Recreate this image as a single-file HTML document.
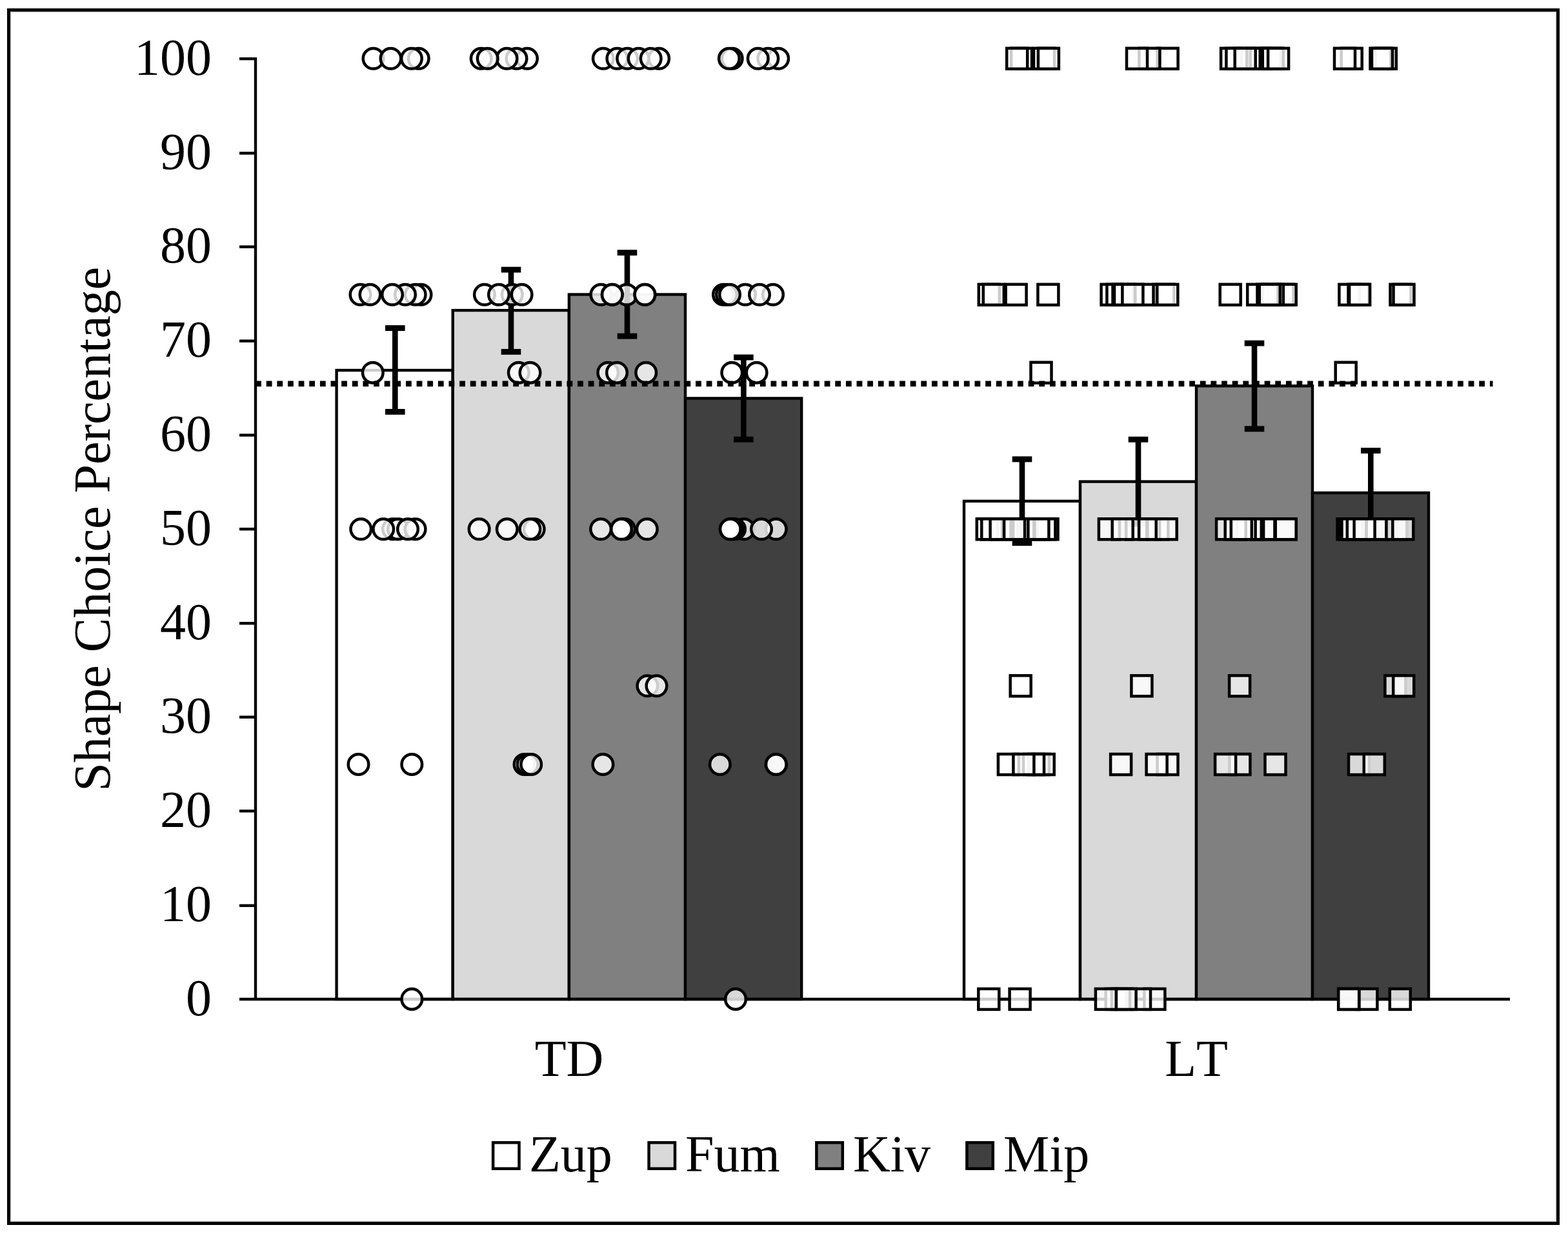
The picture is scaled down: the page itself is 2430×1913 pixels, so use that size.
<!DOCTYPE html>
<html lang="en"><head><meta charset="utf-8"><title>Shape Choice Percentage</title>
<style>html,body{margin:0;padding:0;background:#fff;}body{width:2430px;height:1913px;}svg{display:block;}text{font-family:"Liberation Serif","Times New Roman",serif;fill:#000;font-kerning:none;font-variant-ligatures:none;}</style></head><body>
<svg width="2430" height="1913" viewBox="0 0 2430 1913" role="img" aria-label="Bar chart of shape choice percentage for TD and LT groups">
<rect x="0" y="0" width="2430" height="1913" fill="#ffffff"/>
<rect x="16.8" y="18.8" width="2394.4" height="1874.4" fill="#ffffff" stroke="#d4d4d4" stroke-width="1.6"/>
<rect x="13.5" y="15.5" width="2401" height="1881" fill="none" stroke="#000" stroke-width="5"/>
<g stroke="#000" stroke-width="4.4" stroke-linejoin="miter">
<rect x="521.60" y="574.00" width="180.15" height="975.00" fill="#ffffff"/>
<rect x="701.75" y="481.10" width="180.15" height="1067.90" fill="#d9d9d9"/>
<rect x="881.90" y="456.50" width="180.15" height="1092.50" fill="#808080"/>
<rect x="1062.05" y="617.50" width="180.15" height="931.50" fill="#404040"/>
<rect x="1494.00" y="776.90" width="180.00" height="772.10" fill="#ffffff"/>
<rect x="1674.00" y="746.60" width="180.00" height="802.40" fill="#d9d9d9"/>
<rect x="1854.00" y="598.30" width="180.00" height="950.70" fill="#808080"/>
<rect x="2034.00" y="764.00" width="180.00" height="785.00" fill="#404040"/>
</g>
<g stroke="#000" fill="none">
<line x1="612.30" y1="508.60" x2="612.30" y2="638.40" stroke-width="8.6"/>
<line x1="597.00" y1="508.60" x2="627.60" y2="508.60" stroke-width="8.9"/>
<line x1="597.00" y1="638.40" x2="627.60" y2="638.40" stroke-width="8.9"/>
<line x1="792.00" y1="418.10" x2="792.00" y2="545.40" stroke-width="8.6"/>
<line x1="776.70" y1="418.10" x2="807.30" y2="418.10" stroke-width="8.9"/>
<line x1="776.70" y1="545.40" x2="807.30" y2="545.40" stroke-width="8.9"/>
<line x1="972.00" y1="391.70" x2="972.00" y2="521.10" stroke-width="8.6"/>
<line x1="956.70" y1="391.70" x2="987.30" y2="391.70" stroke-width="8.9"/>
<line x1="956.70" y1="521.10" x2="987.30" y2="521.10" stroke-width="8.9"/>
<line x1="1152.40" y1="554.00" x2="1152.40" y2="681.30" stroke-width="8.6"/>
<line x1="1137.10" y1="554.00" x2="1167.70" y2="554.00" stroke-width="8.9"/>
<line x1="1137.10" y1="681.30" x2="1167.70" y2="681.30" stroke-width="8.9"/>
<line x1="1584.00" y1="711.90" x2="1584.00" y2="841.70" stroke-width="8.6"/>
<line x1="1568.70" y1="711.90" x2="1599.30" y2="711.90" stroke-width="8.9"/>
<line x1="1568.70" y1="841.70" x2="1599.30" y2="841.70" stroke-width="8.9"/>
<line x1="1764.00" y1="681.30" x2="1764.00" y2="811.90" stroke-width="8.6"/>
<line x1="1748.70" y1="681.30" x2="1779.30" y2="681.30" stroke-width="8.9"/>
<line x1="1748.70" y1="811.90" x2="1779.30" y2="811.90" stroke-width="8.9"/>
<line x1="1944.00" y1="532.10" x2="1944.00" y2="664.90" stroke-width="8.6"/>
<line x1="1928.70" y1="532.10" x2="1959.30" y2="532.10" stroke-width="8.9"/>
<line x1="1928.70" y1="664.90" x2="1959.30" y2="664.90" stroke-width="8.9"/>
<line x1="2124.30" y1="698.60" x2="2124.30" y2="829.40" stroke-width="8.6"/>
<line x1="2109.00" y1="698.60" x2="2139.60" y2="698.60" stroke-width="8.9"/>
<line x1="2109.00" y1="829.40" x2="2139.60" y2="829.40" stroke-width="8.9"/>
</g>
<g stroke="#000" stroke-width="4.4" fill="none">
<line x1="396.00" y1="89.00" x2="396.00" y2="1551.10"/>
<line x1="371" y1="1549.00" x2="2340" y2="1549.00"/>
<line x1="371" y1="1403.90" x2="396.00" y2="1403.90"/>
<line x1="371" y1="1257.30" x2="396.00" y2="1257.30"/>
<line x1="371" y1="1111.70" x2="396.00" y2="1111.70"/>
<line x1="371" y1="966.30" x2="396.00" y2="966.30"/>
<line x1="371" y1="820.20" x2="396.00" y2="820.20"/>
<line x1="371" y1="674.60" x2="396.00" y2="674.60"/>
<line x1="371" y1="528.60" x2="396.00" y2="528.60"/>
<line x1="371" y1="382.60" x2="396.00" y2="382.60"/>
<line x1="371" y1="237.50" x2="396.00" y2="237.50"/>
<line x1="371" y1="91.10" x2="396.00" y2="91.10"/>
</g>
<g stroke="#000" stroke-width="4.5" fill="#fff" fill-opacity="0.80">
<circle cx="648.7" cy="90.8" r="15.8"/>
<circle cx="578.5" cy="90.8" r="15.8"/>
<circle cx="605.5" cy="90.8" r="15.8"/>
<circle cx="637.9" cy="90.8" r="15.8"/>
<circle cx="817.0" cy="90.8" r="15.8"/>
<circle cx="800.5" cy="90.8" r="15.8"/>
<circle cx="785.5" cy="90.8" r="15.8"/>
<circle cx="745.7" cy="90.8" r="15.8"/>
<circle cx="755.7" cy="90.8" r="15.8"/>
<circle cx="1021.1" cy="90.8" r="15.8"/>
<circle cx="934.8" cy="90.8" r="15.8"/>
<circle cx="956.4" cy="90.8" r="15.8"/>
<circle cx="972.2" cy="90.8" r="15.8"/>
<circle cx="989.6" cy="90.8" r="15.8"/>
<circle cx="1008.7" cy="90.8" r="15.8"/>
<circle cx="1134.7" cy="90.8" r="15.8"/>
<circle cx="1129.9" cy="90.8" r="15.8"/>
<circle cx="1206.2" cy="90.8" r="15.8"/>
<circle cx="1190.3" cy="90.8" r="15.8"/>
<circle cx="1174.7" cy="90.8" r="15.8"/>
<circle cx="652.5" cy="456.8" r="15.8"/>
<circle cx="643.7" cy="456.8" r="15.8"/>
<circle cx="628.0" cy="456.8" r="15.8"/>
<circle cx="558.5" cy="456.8" r="15.8"/>
<circle cx="573.5" cy="456.8" r="15.8"/>
<circle cx="608.0" cy="456.8" r="15.8"/>
<circle cx="793.7" cy="456.8" r="15.8"/>
<circle cx="808.6" cy="456.8" r="15.8"/>
<circle cx="750.9" cy="456.8" r="15.8"/>
<circle cx="773.0" cy="456.8" r="15.8"/>
<circle cx="931.4" cy="456.8" r="15.8"/>
<circle cx="971.2" cy="456.8" r="15.8"/>
<circle cx="948.8" cy="456.8" r="15.8"/>
<circle cx="948.8" cy="456.8" r="15.8"/>
<circle cx="999.4" cy="456.8" r="15.8"/>
<circle cx="999.4" cy="456.8" r="15.8"/>
<circle cx="1155.0" cy="456.8" r="15.8"/>
<circle cx="1121.0" cy="456.8" r="15.8"/>
<circle cx="1126.0" cy="456.8" r="15.8"/>
<circle cx="1131.0" cy="456.8" r="15.8"/>
<circle cx="1198.0" cy="456.8" r="15.8"/>
<circle cx="1177.0" cy="456.8" r="15.8"/>
<circle cx="577.8" cy="577.7" r="15.8"/>
<circle cx="803.8" cy="577.7" r="15.8"/>
<circle cx="821.5" cy="577.7" r="15.8"/>
<circle cx="942.3" cy="577.7" r="15.8"/>
<circle cx="956.0" cy="577.7" r="15.8"/>
<circle cx="1001.2" cy="577.7" r="15.8"/>
<circle cx="1134.3" cy="577.7" r="15.8"/>
<circle cx="1172.6" cy="577.7" r="15.8"/>
<circle cx="609.0" cy="820.3" r="15.8"/>
<circle cx="617.0" cy="820.3" r="15.8"/>
<circle cx="643.6" cy="820.3" r="15.8"/>
<circle cx="559.3" cy="820.3" r="15.8"/>
<circle cx="594.2" cy="820.3" r="15.8"/>
<circle cx="632.0" cy="820.3" r="15.8"/>
<circle cx="827.7" cy="820.3" r="15.8"/>
<circle cx="742.6" cy="820.3" r="15.8"/>
<circle cx="785.8" cy="820.3" r="15.8"/>
<circle cx="821.4" cy="820.3" r="15.8"/>
<circle cx="931.1" cy="820.3" r="15.8"/>
<circle cx="968.0" cy="820.3" r="15.8"/>
<circle cx="963.0" cy="820.3" r="15.8"/>
<circle cx="963.0" cy="820.3" r="15.8"/>
<circle cx="1002.8" cy="820.3" r="15.8"/>
<circle cx="1153.0" cy="820.3" r="15.8"/>
<circle cx="1139.0" cy="820.3" r="15.8"/>
<circle cx="1135.5" cy="820.3" r="15.8"/>
<circle cx="1131.8" cy="820.3" r="15.8"/>
<circle cx="1131.8" cy="820.3" r="15.8"/>
<circle cx="1202.7" cy="820.3" r="15.8"/>
<circle cx="1180.0" cy="820.3" r="15.8"/>
<circle cx="1003.4" cy="1063.3" r="15.8"/>
<circle cx="1017.5" cy="1063.3" r="15.8"/>
<circle cx="555.5" cy="1185.0" r="15.8"/>
<circle cx="638.3" cy="1185.0" r="15.8"/>
<circle cx="812.6" cy="1185.0" r="15.8"/>
<circle cx="817.7" cy="1185.0" r="15.8"/>
<circle cx="823.2" cy="1185.0" r="15.8"/>
<circle cx="934.4" cy="1185.0" r="15.8"/>
<circle cx="1115.8" cy="1185.0" r="15.8"/>
<circle cx="1202.8" cy="1185.0" r="15.8"/>
<circle cx="1202.8" cy="1185.0" r="15.8"/>
<circle cx="638.3" cy="1548.9" r="15.8"/>
<circle cx="1140.0" cy="1548.9" r="15.8"/>
</g>
<g stroke="#000" stroke-width="4.5" fill="#fff" fill-opacity="0.80">
<rect x="1567.1" y="74.8" width="32.0" height="32.0"/>
<rect x="1560.2" y="74.8" width="32.0" height="32.0"/>
<rect x="1602.0" y="74.8" width="32.0" height="32.0"/>
<rect x="1608.9" y="74.8" width="32.0" height="32.0"/>
<rect x="1793.6" y="74.8" width="32.0" height="32.0"/>
<rect x="1765.4" y="74.8" width="32.0" height="32.0"/>
<rect x="1746.0" y="74.8" width="32.0" height="32.0"/>
<rect x="1931.1" y="74.8" width="32.0" height="32.0"/>
<rect x="1937.7" y="74.8" width="32.0" height="32.0"/>
<rect x="1892.1" y="74.8" width="32.0" height="32.0"/>
<rect x="1900.4" y="74.8" width="32.0" height="32.0"/>
<rect x="1913.7" y="74.8" width="32.0" height="32.0"/>
<rect x="1952.7" y="74.8" width="32.0" height="32.0"/>
<rect x="1956.8" y="74.8" width="32.0" height="32.0"/>
<rect x="1965.1" y="74.8" width="32.0" height="32.0"/>
<rect x="2078.7" y="74.8" width="32.0" height="32.0"/>
<rect x="2068.0" y="74.8" width="32.0" height="32.0"/>
<rect x="2131.8" y="74.8" width="32.0" height="32.0"/>
<rect x="2123.5" y="74.8" width="32.0" height="32.0"/>
<rect x="2126.0" y="74.8" width="32.0" height="32.0"/>
<rect x="1516.8" y="440.8" width="32.0" height="32.0"/>
<rect x="1523.8" y="440.8" width="32.0" height="32.0"/>
<rect x="1558.6" y="440.8" width="32.0" height="32.0"/>
<rect x="1608.4" y="440.8" width="32.0" height="32.0"/>
<rect x="1706.6" y="440.8" width="32.0" height="32.0"/>
<rect x="1715.4" y="440.8" width="32.0" height="32.0"/>
<rect x="1724.5" y="440.8" width="32.0" height="32.0"/>
<rect x="1727.0" y="440.8" width="32.0" height="32.0"/>
<rect x="1759.3" y="440.8" width="32.0" height="32.0"/>
<rect x="1739.4" y="440.8" width="32.0" height="32.0"/>
<rect x="1787.5" y="440.8" width="32.0" height="32.0"/>
<rect x="1793.3" y="440.8" width="32.0" height="32.0"/>
<rect x="1890.7" y="440.8" width="32.0" height="32.0"/>
<rect x="1933.2" y="440.8" width="32.0" height="32.0"/>
<rect x="1972.5" y="440.8" width="32.0" height="32.0"/>
<rect x="1976.7" y="440.8" width="32.0" height="32.0"/>
<rect x="1956.8" y="440.8" width="32.0" height="32.0"/>
<rect x="1948.5" y="440.8" width="32.0" height="32.0"/>
<rect x="1951.8" y="440.8" width="32.0" height="32.0"/>
<rect x="2075.4" y="440.8" width="32.0" height="32.0"/>
<rect x="2089.5" y="440.8" width="32.0" height="32.0"/>
<rect x="2091.1" y="440.8" width="32.0" height="32.0"/>
<rect x="2154.5" y="440.8" width="32.0" height="32.0"/>
<rect x="2159.5" y="440.8" width="32.0" height="32.0"/>
<rect x="1597.5" y="561.7" width="32.0" height="32.0"/>
<rect x="2069.7" y="561.7" width="32.0" height="32.0"/>
<rect x="1545.3" y="804.3" width="32.0" height="32.0"/>
<rect x="1570.2" y="804.3" width="32.0" height="32.0"/>
<rect x="1607.5" y="804.3" width="32.0" height="32.0"/>
<rect x="1603.4" y="804.3" width="32.0" height="32.0"/>
<rect x="1513.8" y="804.3" width="32.0" height="32.0"/>
<rect x="1521.3" y="804.3" width="32.0" height="32.0"/>
<rect x="1534.6" y="804.3" width="32.0" height="32.0"/>
<rect x="1556.1" y="804.3" width="32.0" height="32.0"/>
<rect x="1593.4" y="804.3" width="32.0" height="32.0"/>
<rect x="1745.2" y="804.3" width="32.0" height="32.0"/>
<rect x="1778.4" y="804.3" width="32.0" height="32.0"/>
<rect x="1702.9" y="804.3" width="32.0" height="32.0"/>
<rect x="1723.7" y="804.3" width="32.0" height="32.0"/>
<rect x="1765.1" y="804.3" width="32.0" height="32.0"/>
<rect x="1791.7" y="804.3" width="32.0" height="32.0"/>
<rect x="1976.7" y="804.3" width="32.0" height="32.0"/>
<rect x="1976.7" y="804.3" width="32.0" height="32.0"/>
<rect x="1943.5" y="804.3" width="32.0" height="32.0"/>
<rect x="1943.5" y="804.3" width="32.0" height="32.0"/>
<rect x="1926.1" y="804.3" width="32.0" height="32.0"/>
<rect x="1922.8" y="804.3" width="32.0" height="32.0"/>
<rect x="1913.6" y="804.3" width="32.0" height="32.0"/>
<rect x="1885.1" y="804.3" width="32.0" height="32.0"/>
<rect x="1898.7" y="804.3" width="32.0" height="32.0"/>
<rect x="1907.8" y="804.3" width="32.0" height="32.0"/>
<rect x="2072.6" y="804.3" width="32.0" height="32.0"/>
<rect x="2076.2" y="804.3" width="32.0" height="32.0"/>
<rect x="2079.5" y="804.3" width="32.0" height="32.0"/>
<rect x="2087.8" y="804.3" width="32.0" height="32.0"/>
<rect x="2117.7" y="804.3" width="32.0" height="32.0"/>
<rect x="2117.7" y="804.3" width="32.0" height="32.0"/>
<rect x="2098.6" y="804.3" width="32.0" height="32.0"/>
<rect x="2148.4" y="804.3" width="32.0" height="32.0"/>
<rect x="2158.3" y="804.3" width="32.0" height="32.0"/>
<rect x="1565.7" y="1047.3" width="32.0" height="32.0"/>
<rect x="1753.4" y="1047.3" width="32.0" height="32.0"/>
<rect x="1905.1" y="1047.3" width="32.0" height="32.0"/>
<rect x="2146.4" y="1047.3" width="32.0" height="32.0"/>
<rect x="2159.2" y="1047.3" width="32.0" height="32.0"/>
<rect x="1546.9" y="1169.0" width="32.0" height="32.0"/>
<rect x="1593.9" y="1169.0" width="32.0" height="32.0"/>
<rect x="1601.7" y="1169.0" width="32.0" height="32.0"/>
<rect x="1586.0" y="1169.0" width="32.0" height="32.0"/>
<rect x="1570.4" y="1169.0" width="32.0" height="32.0"/>
<rect x="1721.1" y="1169.0" width="32.0" height="32.0"/>
<rect x="1793.5" y="1169.0" width="32.0" height="32.0"/>
<rect x="1776.6" y="1169.0" width="32.0" height="32.0"/>
<rect x="1905.4" y="1169.0" width="32.0" height="32.0"/>
<rect x="1883.1" y="1169.0" width="32.0" height="32.0"/>
<rect x="1960.5" y="1169.0" width="32.0" height="32.0"/>
<rect x="2090.0" y="1169.0" width="32.0" height="32.0"/>
<rect x="2113.8" y="1169.0" width="32.0" height="32.0"/>
<rect x="1516.3" y="1532.9" width="32.0" height="32.0"/>
<rect x="1564.6" y="1532.9" width="32.0" height="32.0"/>
<rect x="1713.7" y="1532.9" width="32.0" height="32.0"/>
<rect x="1722.8" y="1532.9" width="32.0" height="32.0"/>
<rect x="1773.4" y="1532.9" width="32.0" height="32.0"/>
<rect x="1751.0" y="1532.9" width="32.0" height="32.0"/>
<rect x="1728.6" y="1532.9" width="32.0" height="32.0"/>
<rect x="1697.9" y="1532.9" width="32.0" height="32.0"/>
<rect x="2102.4" y="1532.9" width="32.0" height="32.0"/>
<rect x="2074.2" y="1532.9" width="32.0" height="32.0"/>
<rect x="2074.2" y="1532.9" width="32.0" height="32.0"/>
<rect x="2153.8" y="1532.9" width="32.0" height="32.0"/>
</g>
<line x1="396.1" y1="594.9" x2="2313.5" y2="594.9" stroke="#000" stroke-width="8.6" stroke-dasharray="8.8 7.833"/>
<g font-size="80">
<text x="328" y="1573.7" text-anchor="end">0</text>
<text x="328" y="1427.9" text-anchor="end">10</text>
<text x="328" y="1282.1" text-anchor="end">20</text>
<text x="328" y="1136.3" text-anchor="end">30</text>
<text x="328" y="990.5" text-anchor="end">40</text>
<text x="328" y="844.8" text-anchor="end">50</text>
<text x="328" y="699.0" text-anchor="end">60</text>
<text x="328" y="553.2" text-anchor="end">70</text>
<text x="328" y="407.4" text-anchor="end">80</text>
<text x="328" y="261.6" text-anchor="end">90</text>
<text x="328" y="115.8" text-anchor="end">100</text>
<text x="882" y="1667.7" text-anchor="middle">TD</text>
<text x="1854" y="1667.7" text-anchor="middle">LT</text>
<text transform="translate(170.4 820.2) rotate(-90)" text-anchor="middle">Shape Choice Percentage</text>
<rect x="764.1" y="1771.3" width="40.4" height="40.4" fill="#ffffff" stroke="#000" stroke-width="4.5"/>
<text x="820.0" y="1816.4">Zup</text>
<rect x="1005.6" y="1771.3" width="40.4" height="40.4" fill="#d9d9d9" stroke="#000" stroke-width="4.5"/>
<text x="1062.0" y="1816.4">Fum</text>
<rect x="1265.4" y="1771.3" width="40.4" height="40.4" fill="#808080" stroke="#000" stroke-width="4.5"/>
<text x="1322.0" y="1816.4">Kiv</text>
<rect x="1498.4" y="1771.3" width="40.4" height="40.4" fill="#404040" stroke="#000" stroke-width="4.5"/>
<text x="1555.0" y="1816.4">Mip</text>
</g>
</svg></body></html>
